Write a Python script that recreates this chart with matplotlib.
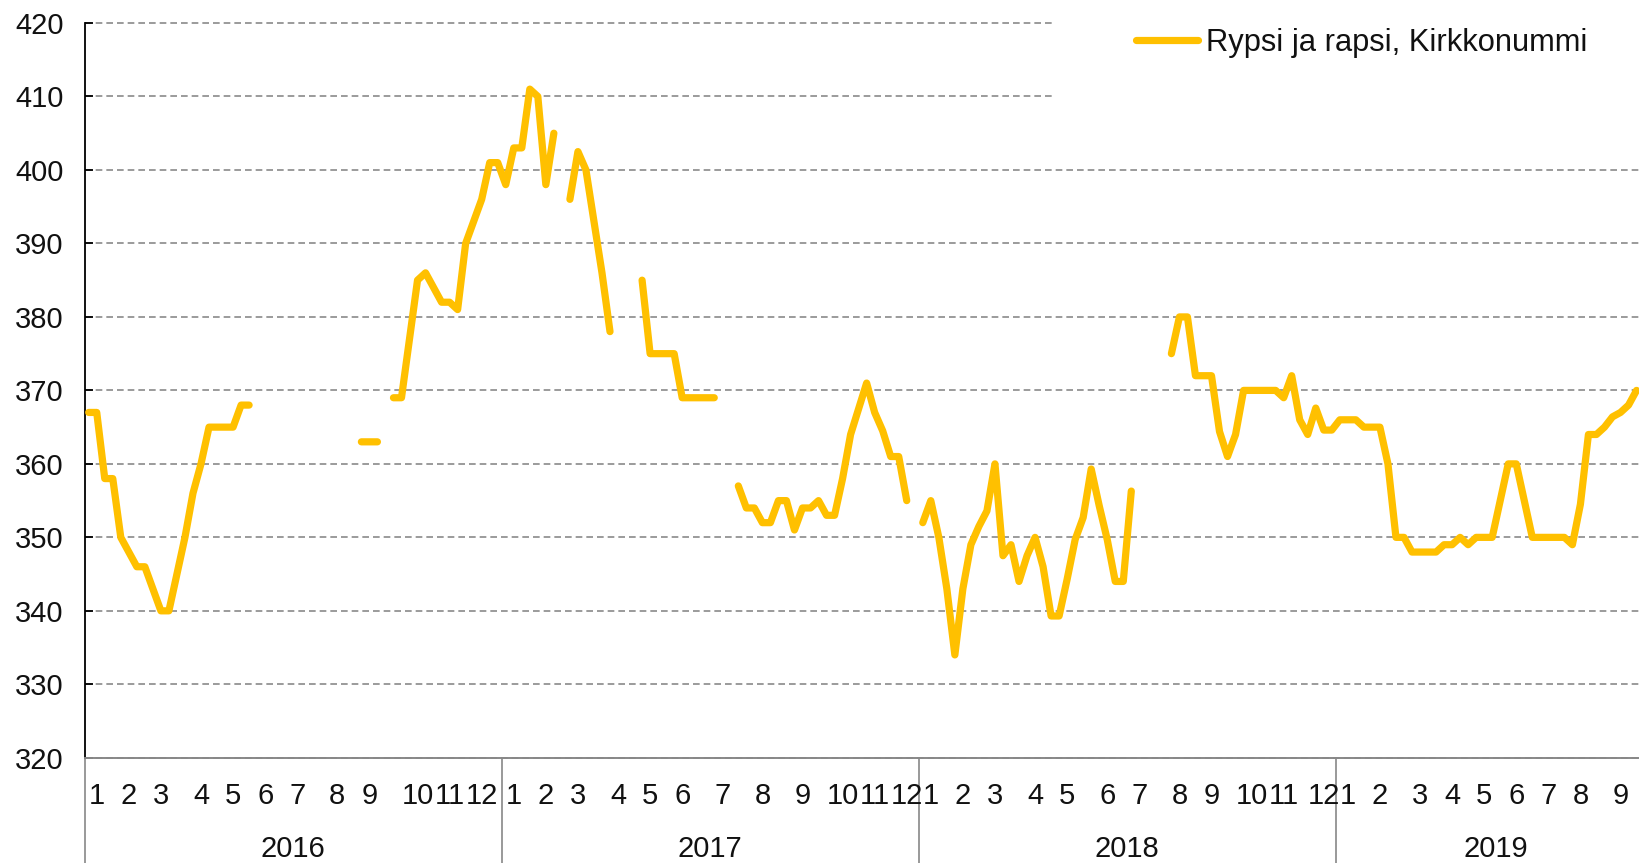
import numpy as np
import matplotlib
matplotlib.use("Agg")
import matplotlib.pyplot as plt
from matplotlib.transforms import blended_transform_factory

nan = np.nan

# ---- data (weekly prices, €/t) ----
years = ["2016", "2017", "2018", "2019"]
weeks_in_year = [52, 52, 52, 40]   # categories on the axis per year

v2016 = [367, 367, 358, 358, 350, 348, 346, 346, 343, 340,
         340, 345, 350, 356, 360, 365, 365, 365, 365, 368,
         368, nan, nan, nan, nan, nan, nan, nan, nan, nan,
         nan, nan, nan, nan, 363, 363, 363, nan, 369, 369,
         377, 385, 386, 384, 382, 382, 381, 390, 393, 396,
         401, 401]
v2017 = [398, 403, 403, 411, 410, 398, 405, nan, 396, 402.5,
         400, 393, 386, 378, nan, nan, nan, 385, 375, 375,
         375, 375, 369, 369, 369, 369, 369, nan, nan, 357,
         354, 354, 352, 352, 355, 355, 351, 354, 354, 355,
         353, 353, 358, 364, 367.5, 371, 367, 364.5, 361, 361,
         355, nan]
v2018 = [352, 355, 350, 343, 334, 343, 349, 351.5, 353.6, 360,
         347.5, 349, 344, 347.5, 350, 346, 339.3, 339.3, 344.3, 349.7,
         352.7, 359.3, 354.3, 349.7, 344, 344, 356.3, nan, nan, nan,
         nan, 375, 380, 380, 372, 372, 372, 364.4, 361, 364,
         370, 370, 370, 370, 370, 369, 372, 366, 364, 367.6,
         364.6, 364.6]
v2019 = [366, 366, 366, 365, 365, 365, 360, 350, 350, 348,
         348, 348, 348, 349, 349, 350, 349, 350, 350, 350,
         355, 360, 360, 355, 350, 350, 350, 350, 350, 349,
         354.5, 364, 364, 365, 366.4, 367, 368, 370]
series = [v2016, v2017, v2018, v2019]

month_weeks = [
    [2, 6, 10, 15, 19, 23, 27, 32, 36, 42, 46, 50],
    [2, 6, 10, 15, 19, 23, 28, 33, 38, 43, 47, 51],
    [2, 6, 10, 15, 19, 24, 28, 33, 37, 42, 46, 51],
    [2, 6, 11, 15, 19, 23, 27, 31, 36],
]
series_name = "Rypsi ja rapsi, Kirkkonummi"
y_ticks = list(range(320, 421, 10))

# ---- build category positions ----
offsets = np.concatenate([[0], np.cumsum(weeks_in_year)[:-1]])
xs, ys = [], []
for off, vals in zip(offsets, series):
    k = np.arange(1, len(vals) + 1)
    xs.append(off + k - 0.5)
    ys.append(np.array(vals, dtype=float))
x = np.concatenate(xs)
y = np.concatenate(ys)

# ---- figure ----
FONT = ["Liberation Sans", "DejaVu Sans"]
plt.rcParams["font.family"] = FONT
W, H = 1639, 863
fig = plt.figure(figsize=(W / 100, H / 100), dpi=100)
left_px, right_px, top_px, bot_px = 84.7, 1656.6, 23.0, 757.8
ax = fig.add_axes([left_px / W, 1 - bot_px / H,
                   (right_px - left_px) / W, (bot_px - top_px) / H])

ax.plot(x, y, color="#FFC000", lw=5.2, solid_capstyle="round",
        solid_joinstyle="round", label=series_name, zorder=3)

ax.set_xlim(0, sum(weeks_in_year))
ax.set_ylim(320, 420)
ax.set_yticks(y_ticks)
ax.set_xticks([])
ax.set_axisbelow(True)
ax.yaxis.grid(True, color="#8a8a8a", lw=1.2, linestyle=(0, (4, 2.4)))
for gl in ax.get_ygridlines():
    gl.set_clip_on(False)
ax.tick_params(axis="y", direction="in", length=5.8, width=1.3,
               color="black", pad=15, labelsize=21, labelcolor="#111111")

for s in ("top", "right"):
    ax.spines[s].set_visible(False)
ax.spines["left"].set_color("black")
ax.spines["left"].set_linewidth(1.3)
ax.spines["bottom"].set_color("#888888")
ax.spines["bottom"].set_linewidth(1.4)

trans = blended_transform_factory(ax.transData, ax.transAxes)
# year separators (and left edge continuation) below the axis
for b in list(offsets):
    ax.plot([b, b], [0, -0.2], transform=trans, color="#888888", lw=1.2,
            clip_on=False, zorder=2)

# month labels and year labels
ax_h = bot_px - top_px
for off, wks in zip(offsets, month_weeks):
    for m, wk in enumerate(wks, start=1):
        ax.text(off + wk - 0.5, -46 / ax_h, str(m), transform=trans,
                ha="center", va="baseline", fontsize=21, color="#111111")
for off, n, yr in zip(offsets, weeks_in_year, years):
    ax.text(off + n / 2, -99 / ax_h, yr, transform=trans,
            ha="center", va="baseline", fontsize=21, color="#111111")

leg = ax.legend(loc="center left", bbox_to_anchor=(1053 / W, 1 - 43 / H),
                bbox_transform=fig.transFigure, frameon=True, fancybox=False,
                framealpha=1.0, borderpad=2.7, handlelength=2.0,
                handletextpad=0.25, fontsize=22.2, borderaxespad=0)
leg.get_frame().set_facecolor("white")
leg.get_frame().set_edgecolor("none")
for t in leg.get_texts():
    t.set_color("#111111")

fig.savefig("out.png", dpi=100)
